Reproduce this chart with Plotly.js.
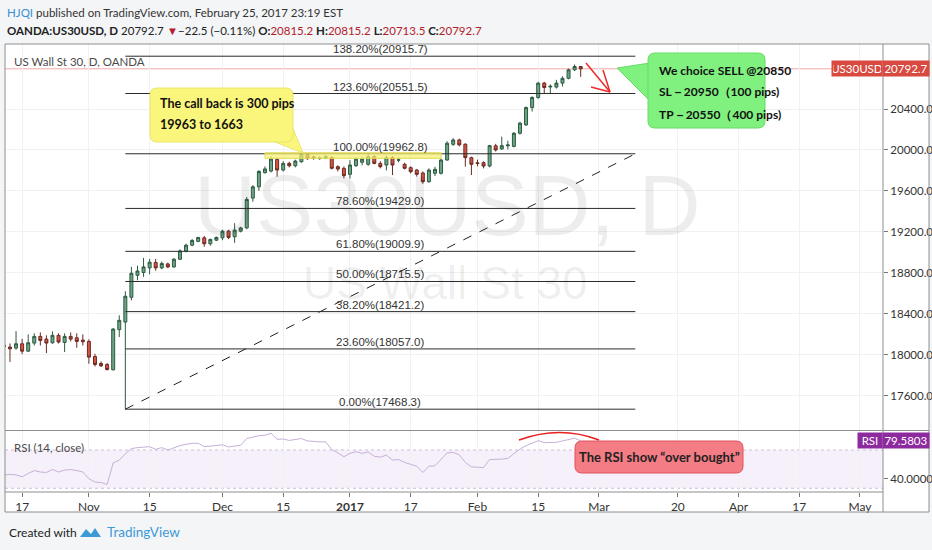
<!DOCTYPE html>
<html>
<head>
<meta charset="utf-8">
<script src="https://cdn.plot.ly/plotly-3.0.1.min.js"></script>
<style>
  html, body { margin: 0; padding: 0; background: #f3f5f7; }
  #chart { width: 932px; height: 550px; }
</style>
</head>
<body>
<div id="chart"></div>
<script>
// daily bars, OANDA:US30USD (Dec 26 and Jan 2 have no bar)
var dates = [
  '2016-10-12','2016-10-13','2016-10-14','2016-10-17','2016-10-18','2016-10-19','2016-10-20','2016-10-21',
  '2016-10-24','2016-10-25','2016-10-26','2016-10-27','2016-10-28','2016-10-31',
  '2016-11-01','2016-11-02','2016-11-03','2016-11-04','2016-11-07','2016-11-08','2016-11-09','2016-11-10',
  '2016-11-11','2016-11-14','2016-11-15','2016-11-16','2016-11-17','2016-11-18','2016-11-21','2016-11-22',
  '2016-11-23','2016-11-24','2016-11-25','2016-11-28','2016-11-29','2016-11-30',
  '2016-12-01','2016-12-02','2016-12-05','2016-12-06','2016-12-07','2016-12-08','2016-12-09','2016-12-12',
  '2016-12-13','2016-12-14','2016-12-15','2016-12-16','2016-12-19','2016-12-20','2016-12-21','2016-12-22',
  '2016-12-23','2016-12-27','2016-12-28','2016-12-29','2016-12-30',
  '2017-01-03','2017-01-04','2017-01-05','2017-01-06','2017-01-09','2017-01-10','2017-01-11','2017-01-12',
  '2017-01-13','2017-01-16','2017-01-17','2017-01-18','2017-01-19','2017-01-20','2017-01-23','2017-01-24',
  '2017-01-25','2017-01-26','2017-01-27','2017-01-30','2017-01-31',
  '2017-02-01','2017-02-02','2017-02-03','2017-02-06','2017-02-07','2017-02-08','2017-02-09','2017-02-10',
  '2017-02-13','2017-02-14','2017-02-15','2017-02-16','2017-02-17','2017-02-20','2017-02-21','2017-02-22',
  '2017-02-23','2017-02-24'
];
var opens = [
  18095,18075,18065,18107,18035,18114,18179,18153,18117,18189,18120,18179,18166,18143,
  18130,17983,17915,17905,17853,18245,18319,18561,18776,18803,18848,18901,18848,18887,18858,18933,
  19012,19070,19107,19142,19084,19119,
  19142,19207,19152,19207,19239,19530,19640,19778,19794,19908,19804,19869,19846,19885,19958,19932,
  19915,19919,19925,19837,19820,
  19762,19846,19880,19860,19934,19869,19853,19925,19900,19860,19827,19804,19775,19690,19772,19772,
  19902,20055,20098,20056,19925,
  19875,19876,19843,20040,20010,20040,20035,20163,20245,20414,20512,20653,20615,20614,20653,20700,
  20783,20815.2
];
var highs = [
  18110,18110,18231,18155,18199,18209,18218,18189,18228,18209,18209,18218,18209,18199,
  18150,18010,17935,17918,18260,18385,18620,18858,18870,18946,18936,18936,18910,18900,18945,19030,
  19085,19130,19150,19160,19135,19155,
  19220,19220,19285,19250,19540,19657,19804,19840,19935,19925,19890,19885,19905,19975,19970,19945,
  19935,19950,19940,19850,19840,
  19900,19930,19935,19960,19950,19890,19945,19940,19930,19875,19840,19815,19790,19820,19835,19915,
  20085,20115,20110,20065,19935,
  19905,19890,20050,20060,20130,20090,20175,20275,20425,20525,20665,20665,20640,20685,20720,20795,
  20835,20815.2
];
var lows = [
  18060,17930,18049,18005,18030,18090,18090,18016,18107,18110,18026,18130,18068,18090,
  17912,17885,17880,17846,17846,18173,17468.3,18531,18727,18760,18786,18820,18835,18845,18850,18925,
  19000,19060,19100,19055,19065,19110,
  19119,19130,19093,19195,19225,19494,19602,19770,19780,19739,19790,19830,19830,19875,19905,19905,
  19905,19910,19810,19790,19723,
  19720,19835,19850,19845,19860,19820,19800,19755,19880,19810,19770,19740,19670,19680,19745,19760,
  19895,20040,20035,19837,19755,
  19840,19820,19830,19985,20000,20005,20025,20150,20235,20375,20500,20555,20545,20600,20620,20690,
  20770,20713.5
];
var closes = [
  18080,18058,18107,18035,18117,18179,18140,18114,18189,18124,18179,18153,18130,18127,
  17977,17905,17892,17856,18251,18336,18571,18796,18818,18858,18904,18848,18891,18858,18933,19014,
  19070,19116,19146,19084,19126,19146,
  19207,19146,19217,19239,19517,19640,19790,19815,19912,19804,19869,19846,19892,19965,19915,19920,
  19922,19934,19821,19814,19749,
  19853,19912,19912,19934,19869,19837,19925,19853,19904,19821,19788,19762,19690,19804,19811,19902,
  20066,20098,20050,19925,19860,
  19868,19843,20042,20000,20042,20049,20163,20262,20414,20512,20653,20610,20622,20653,20700,20783,
  20815,20792.7
];
var rsiValues = [
  44,44.5,44,42,45.5,48.5,47,46.5,49.7,47,49,49.5,48.5,47,
  40,36.5,36,34,56.5,59.5,66,71.5,72.5,73,73.5,70.7,72.5,70,72.5,74.5,76,77,77,73.5,74,75,
  75.5,73.2,74,75,82,83.5,85,85.5,87.5,81.2,81.5,80,81,82,79.5,78.8,78.5,78.5,70.5,67,63,
  66.5,68.3,66.5,68,63.5,62.5,64.7,59.5,60,57,55,53,46.5,53,53.5,60,67,67.5,65,57,52.4,
  52,51.6,60,60,60.5,61.2,66.5,71,74.5,77.5,79.8,77.7,77.7,78,79.5,81.2,82.3,79.58
];

var tickDates = ['2016-10-17','2016-11-01','2016-11-15','2016-12-01','2016-12-15','2017-01-03','2017-01-17',
  '2017-02-01','2017-02-15','2017-03-01','2017-03-20','2017-04-03','2017-04-17','2017-05-01'];
var tickLabels = ['17','Nov','15','Dec','15','<b>2017</b>','17','Feb','15','Mar','20','Apr','17','May'];
var priceTicks = [17600, 18000, 18400, 18800, 19200, 19600, 20000, 20400];

var fibPct = ['0.00%','23.60%','38.20%','50.00%','61.80%','78.60%','100.00%','123.60%','138.20%'];
var fibVal = [17468.3, 18057.0, 18421.2, 18715.5, 19009.9, 19429.0, 19962.8, 20551.5, 20915.7];
var fibStart = '2016-11-09', fibEnd = '2017-03-09', fibMid = '2017-01-10';

var lastPrice = 20792.7;
var lastRsi = 79.5803;

// pixel -> paper helpers for the drawn notes
var PL = 5, PT = 44, PW = 878, PH = 448;
function px(x) { return (x - PL) / PW; }
function py(y) { return (PT + PH - y) / PH; }
function P(x, y) { return px(x) + ',' + py(y); }

var NARROW = 'Lato, "Liberation Sans", sans-serif';
var SANS = '"Liberation Sans", Arial, sans-serif';
var RED = '#b3202a';

function roundRect(x0, y0, x1, y1, r) {
  return 'M' + P(x0 + r, y0) + ' L' + P(x1 - r, y0) + ' Q' + P(x1, y0) + ' ' + P(x1, y0 + r) +
    ' L' + P(x1, y1 - r) + ' Q' + P(x1, y1) + ' ' + P(x1 - r, y1) +
    ' L' + P(x0 + r, y1) + ' Q' + P(x0, y1) + ' ' + P(x0, y1 - r) +
    ' L' + P(x0, y0 + r) + ' Q' + P(x0, y0) + ' ' + P(x0 + r, y0) + ' Z';
}
function tri(a, b, c) {
  return 'M' + P(a[0], a[1]) + ' L' + P(b[0], b[1]) + ' L' + P(c[0], c[1]) + ' Z';
}
function paperLine(x0, y0, x1, y1, color, width) {
  return { type: 'line', xref: 'paper', yref: 'paper', x0: px(x0), y0: py(y0), x1: px(x1), y1: py(y1),
    line: { color: color, width: width }, layer: 'above' };
}

var candles = {
  type: 'candlestick',
  x: dates, open: opens, high: highs, low: lows, close: closes,
  xaxis: 'x', yaxis: 'y',
  increasing: { line: { color: '#2f5a43', width: 1 }, fillcolor: '#6ba583' },
  decreasing: { line: { color: '#6a2a22', width: 1 }, fillcolor: '#d75442' },
  whiskerwidth: 0,
  hoverinfo: 'skip',
  showlegend: false
};

var rsi = {
  type: 'scatter', mode: 'lines',
  x: dates, y: rsiValues,
  xaxis: 'x', yaxis: 'y2',
  line: { color: '#c7b0d6', width: 1 },
  hoverinfo: 'skip',
  showlegend: false
};

var shapes = [
  { type: 'rect', xref: 'paper', yref: 'paper', x0: px(5), x1: px(929), y0: py(512), y1: py(44),
    fillcolor: '#ffffff', line: { width: 0 }, layer: 'below' },
  { type: 'rect', xref: 'paper', yref: 'y2', x0: 0, x1: 1, y0: 30, y1: 70,
    fillcolor: 'rgba(160,90,210,0.09)', line: { width: 0 }, layer: 'below' },
  { type: 'line', xref: 'paper', yref: 'y2', x0: 0, x1: 1, y0: 70, y1: 70,
    line: { color: '#cdbcd8', width: 1, dash: 'dot' }, layer: 'below' },
  { type: 'line', xref: 'paper', yref: 'y2', x0: 0, x1: 1, y0: 30, y1: 30,
    line: { color: '#cdbcd8', width: 1, dash: 'dot' }, layer: 'below' },
  { type: 'line', xref: 'paper', yref: 'y', x0: 0, x1: 1, y0: lastPrice, y1: lastPrice,
    line: { color: '#f4a9a9', width: 1 }, layer: 'below' }
];

// fibonacci retracement
fibVal.forEach(function(v) {
  shapes.push({ type: 'line', xref: 'x', yref: 'y', x0: fibStart, x1: fibEnd, y0: v, y1: v,
    line: { color: '#2b2b2b', width: 1 } });
});
shapes.push({ type: 'line', xref: 'x', yref: 'y', x0: fibStart, x1: fibEnd, y0: fibVal[0], y1: fibVal[6],
  line: { color: '#222', width: 1, dash: 'dash' } });

// yellow band on the 100% level
shapes.push({ type: 'rect', xref: 'x', yref: 'y', x0: '2016-12-12', x1: '2017-01-24', y0: 19918, y1: 19973,
  fillcolor: 'rgba(245,240,110,0.7)', line: { color: '#e2dc55', width: 1 } });

// callouts
shapes.push({ type: 'path', xref: 'paper', yref: 'paper', path: tri([270, 140], [303, 153], [292, 126]),
  fillcolor: '#faf67c', line: { color: '#ebe56a', width: 1 } });
shapes.push({ type: 'path', xref: 'paper', yref: 'paper', path: roundRect(150, 88, 293, 142, 7),
  fillcolor: '#faf67c', line: { color: '#ebe56a', width: 1 } });
shapes.push({ type: 'path', xref: 'paper', yref: 'paper', path: tri([650, 63], [617, 68], [650, 101]),
  fillcolor: '#80f07f', line: { color: '#66dd66', width: 1 } });
shapes.push({ type: 'path', xref: 'paper', yref: 'paper', path: roundRect(648, 53, 765, 128, 7),
  fillcolor: '#80f07f', line: { color: '#66dd66', width: 1 } });
shapes.push({ type: 'path', xref: 'paper', yref: 'paper', path: roundRect(575, 441, 743, 473, 7),
  fillcolor: '#f47c84', line: { color: '#e0525c', width: 1 } });

// red arrow and RSI arc
shapes.push(paperLine(586, 63, 610, 92, '#ee2a2a', 1.5));
shapes.push(paperLine(603, 70, 610, 92, '#ee2a2a', 1.5));
shapes.push(paperLine(591, 87, 610, 92, '#ee2a2a', 1.5));
shapes.push({ type: 'path', xref: 'paper', yref: 'paper',
  path: 'M' + P(519, 440) + ' Q' + P(560, 425) + ' ' + P(599, 440),
  line: { color: '#e82020', width: 1.5 }, layer: 'above' });

// frame
var FRAME = '#8e8e8e';
shapes.push(paperLine(5, 44, 929, 44, FRAME, 1));
shapes.push(paperLine(5, 512, 929, 512, FRAME, 1));
shapes.push(paperLine(5, 44, 5, 512, FRAME, 1));
shapes.push(paperLine(929, 44, 929, 512, FRAME, 1));
shapes.push(paperLine(883, 44, 883, 512, FRAME, 1));
shapes.push(paperLine(5, 430.5, 929, 430.5, FRAME, 1));
shapes.push(paperLine(5, 492, 883, 492, FRAME, 1));

// logo
shapes.push({ type: 'path', xref: 'paper', yref: 'paper',
  path: 'M' + P(80, 537) + ' L' + P(86, 529) + ' L' + P(91, 534) + ' L' + P(95, 528) + ' L' + P(101, 537) + ' Z',
  fillcolor: '#3d9ad7', line: { width: 0 }, layer: 'above' });

function note(x, y, text, font, extra) {
  var a = { xref: 'paper', yref: 'paper', x: px(x), y: py(y), text: text, showarrow: false,
    xanchor: 'left', yanchor: 'middle', font: font };
  return Object.assign(a, extra || {});
}
function tag(x, yref, y, text, color, w) {
  return { xref: 'paper', yref: yref, x: px(x), y: y, xanchor: 'center', yanchor: 'middle',
    text: text, showarrow: false, bgcolor: color, width: w, height: 13,
    font: { family: NARROW, size: 11.5, color: '#fff' } };
}

var annotations = [
  note(5, 12, '<span style="color:#3b8fd0">HJQI</span> published on TradingView.com, February 25, 2017 23:19 EST',
    { family: NARROW, size: 11.5, color: '#333' }),
  note(5, 31, '<b>OANDA:US30USD, D</b> 20792.7 <span style="color:' + RED + '">▼</span>−22.5 (−0.11%) ' +
    '<b>O:</b><span style="color:' + RED + '">20815.2</span> <b>H:</b><span style="color:' + RED + '">20815.2</span> ' +
    '<b>L:</b><span style="color:' + RED + '">20713.5</span> <b>C:</b><span style="color:' + RED + '">20792.7</span>',
    { family: NARROW, size: 11.5, color: '#222' }),
  note(12, 62, 'US Wall St 30, D, OANDA', { family: NARROW, size: 11.5, color: '#4a4a4a' }),
  note(447, 205, 'US30USD, D', { family: SANS, size: 86, color: 'rgba(0,0,0,0.07)' }, { xanchor: 'center' }),
  note(445, 283, 'US Wall St 30', { family: SANS, size: 46, color: 'rgba(0,0,0,0.07)' }, { xanchor: 'center' }),
  note(158, 103, '<b>The call back is 300 pips</b>', { family: NARROW, size: 12.5, color: '#111' }),
  note(158, 125, '<b>19963 to 1663</b>', { family: NARROW, size: 12.5, color: '#111' }),
  note(657, 70, '<b>We choice SELL @20850</b>', { family: NARROW, size: 12, color: '#111' }),
  note(657, 92, '<b>SL－20950（100 pips)</b>', { family: NARROW, size: 12, color: '#111' }),
  note(657, 114, '<b>TP－20550（400 pips)</b>', { family: NARROW, size: 12, color: '#111' }),
  note(659, 457, '<b>The RSI show “over bought”</b>', { family: NARROW, size: 13, color: '#222' }, { xanchor: 'center' }),
  note(12, 447, 'RSI (14, close)', { family: NARROW, size: 11.5, color: '#4a4a4a' }),
  note(7, 532, 'Created with', { family: NARROW, size: 12, color: '#222' }),
  note(105, 532, 'TradingView', { family: NARROW, size: 13.5, color: '#3d9ad7' }),
  tag(857, 'y', lastPrice, 'US30USD', '#d8493f', 48),
  tag(906, 'y', lastPrice, '20792.7', '#d8493f', 44),
  tag(870, 'y2', lastRsi, 'RSI', '#8d2a9e', 22),
  tag(906, 'y2', lastRsi, lastRsi.toFixed(4), '#8d2a9e', 44)
];

fibVal.forEach(function(v, i) {
  annotations.push({ xref: 'x', yref: 'y', x: fibMid, y: v, yanchor: 'bottom', yshift: -1,
    text: fibPct[i] + '(' + v.toFixed(1) + ')', showarrow: false,
    font: { family: SANS, size: 11.5, color: '#333' } });
});

var layout = {
  width: 932, height: 550,
  margin: { l: 5, r: 49, t: 44, b: 58 },
  paper_bgcolor: '#f3f5f7',
  plot_bgcolor: '#ffffff',
  showlegend: false,
  xaxis: {
    type: 'date', anchor: 'y2',
    range: ['2016-10-12 04:20', '2017-05-04 19:00'],
    rangebreaks: [{ bounds: ['sat', 'mon'] }, { values: ['2016-12-26', '2017-01-02'] }],
    rangeslider: { visible: false },
    tickmode: 'array', tickvals: tickDates, ticktext: tickLabels,
    ticks: 'outside', ticklen: 4, tickcolor: '#777',
    tickfont: { family: NARROW, size: 12, color: '#333' },
    showgrid: true, gridcolor: '#f1f1f1', zeroline: false, showline: false,
    fixedrange: true
  },
  yaxis: {
    domain: [0.1384, 1], anchor: 'x', side: 'right',
    range: [17265, 21035],
    tickmode: 'array', tickvals: priceTicks,
    ticktext: priceTicks.map(function(v) { return v.toFixed(1); }),
    ticks: 'outside', ticklen: 4, tickcolor: '#777',
    tickfont: { family: NARROW, size: 11.5, color: '#333' },
    showgrid: true, gridcolor: '#f1f1f1', zeroline: false, showline: false,
    fixedrange: true
  },
  yaxis2: {
    domain: [0, 0.136], anchor: 'x', side: 'right',
    range: [26.1, 89.8],
    tickmode: 'array', tickvals: [40], ticktext: ['40.0000'],
    ticks: 'outside', ticklen: 4, tickcolor: '#777',
    tickfont: { family: NARROW, size: 11.5, color: '#333' },
    showgrid: false, zeroline: false, showline: false,
    fixedrange: true
  },
  shapes: shapes,
  annotations: annotations
};

Plotly.newPlot('chart', [candles, rsi], layout, { staticPlot: true, displayModeBar: false });
</script>
</body>
</html>
